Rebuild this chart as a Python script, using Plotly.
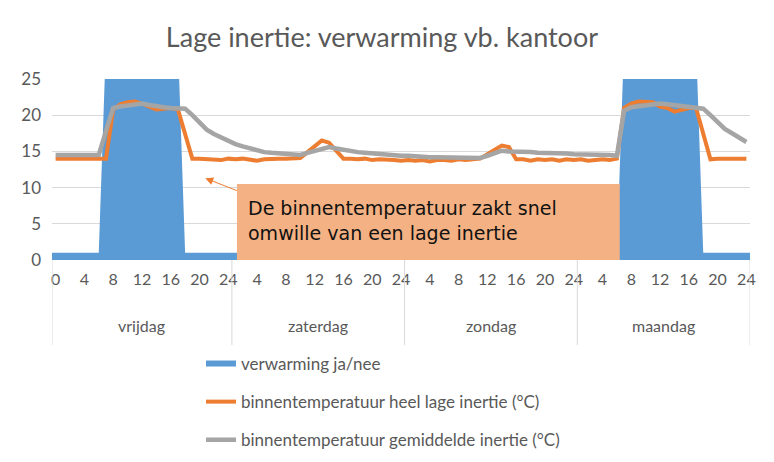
import plotly.graph_objects as go

# ---------------- data ----------------
hours = list(range(0, 25)) + list(range(1, 25)) * 3          # category labels (hour of day)
days = ["vrijdag", "zaterdag", "zondag", "maandag"]

verwarming = ([1] * 7 + [30] * 11 + [1] * 61 + [30] * 11 + [1] * 7)

temp_laag = [
    14.0, 14.0, 14.0, 14.0, 14.0, 14.0, 14.0, 14.0, 20.8, 21.5,   # 0-9
    21.8, 21.9, 21.6, 21.2, 20.8, 20.9, 21.0, 20.8, 17.4, 14.0,   # 10-19
    14.0, 13.9, 13.9, 13.8, 14.0, 13.9, 14.0, 13.9, 13.7, 13.9,   # 20-29
    14.0, 14.0, 14.0, 14.0, 14.1, 14.9, 15.7, 16.5, 16.2, 15.1,   # 30-39
    14.0, 14.0, 13.9, 14.0, 13.8, 13.9, 13.9, 13.8, 13.7, 13.8,   # 40-49
    13.7, 13.8, 13.6, 13.8, 13.8, 13.7, 13.9, 13.8, 13.9, 14.0,   # 50-59
    14.6, 15.2, 15.8, 15.6, 13.9, 13.9, 13.7, 13.9, 13.8, 13.9,   # 60-69
    13.7, 13.9, 13.8, 13.9, 13.7, 13.8, 13.9, 13.8, 14.0, 21.0,   # 70-79
    21.6, 21.9, 21.9, 21.8, 21.2, 21.0, 20.5, 20.8, 21.0, 21.0,   # 80-89
    17.5, 13.9, 14.0, 14.0, 13.9, 13.9, 14.0,                     # 90-96
]

temp_gemiddeld = [
    14.5, 14.5, 14.5, 14.5, 14.5, 14.5, 14.5, 17.8, 21.0, 21.2,   # 0-9
    21.3, 21.5, 21.6, 21.4, 21.2, 21.1, 21.0, 21.0, 20.9, 20.0,   # 10-19
    19.0, 18.0, 17.4, 16.9, 16.4, 16.0, 15.7, 15.4, 15.1, 14.9,   # 20-29
    14.8, 14.7, 14.6, 14.6, 14.5, 14.8, 15.1, 15.4, 15.6, 15.4,   # 30-39
    15.2, 15.0, 14.9, 14.8, 14.7, 14.6, 14.6, 14.5, 14.4, 14.4,   # 40-49
    14.3, 14.3, 14.2, 14.2, 14.2, 14.1, 14.1, 14.1, 14.05, 14.1,  # 50-59
    14.4, 14.8, 15.1, 15.0, 15.0, 14.9, 14.9, 14.8, 14.8, 14.8,   # 60-69
    14.7, 14.7, 14.6, 14.6, 14.6, 14.5, 14.5, 14.5, 14.4, 20.6,   # 70-79
    21.1, 21.2, 21.3, 21.4, 21.6, 21.5, 21.4, 21.3, 21.1, 21.0,   # 80-89
    20.9, 20.0, 19.0, 18.1, 17.5, 16.9, 16.3,                     # 90-96
]

y_ticks = [0, 5, 10, 15, 20, 25]

# ---------------- derived ----------------
idx = list(range(len(hours)))
day_of = []
d = 0
for i, h in enumerate(hours):
    if i > 0 and h < hours[i - 1]:
        d += 1
    day_of.append(d)
day_centers = [sum(i for i in idx if day_of[i] == k) / day_of.count(k) for k in range(len(days))]
day_bounds = [-0.5] + [i + 0.5 for i in idx[:-1] if day_of[i + 1] != day_of[i]] + [idx[-1] + 0.5]
tickvals = idx[::4]
ticktext = [str(hours[i]) for i in tickvals]

BLUE = "#5B9BD5"
ORANGE = "#ED7D31"
GREY = "#A5A5A5"
TXT = "#595959"
FONT = "Lato"

fig = go.Figure()

# area (extended to both plot edges, like Excel)
fig.add_trace(go.Scatter(
    x=[idx[0] - 0.5] + idx + [idx[-1] + 0.5],
    y=[verwarming[0]] + verwarming + [verwarming[-1]],
    mode="lines", fill="tozeroy", fillcolor=BLUE,
    line=dict(width=0, color=BLUE), showlegend=False, hoverinfo="skip"))
fig.add_trace(go.Scatter(x=[None], y=[None], mode="lines", name="verwarming ja/nee",
                         line=dict(color=BLUE, width=6), legendgroup="a"))
fig.add_trace(go.Scatter(x=idx, y=temp_laag, mode="lines",
                         name="binnentemperatuur heel lage inertie (°C)",
                         line=dict(color=ORANGE, width=4), legendgroup="b"))
fig.add_trace(go.Scatter(x=idx, y=temp_gemiddeld, mode="lines",
                         name="binnentemperatuur gemiddelde inertie (°C)",
                         line=dict(color=GREY, width=4.5), legendgroup="c"))

shapes = []
for b in day_bounds:
    shapes.append(dict(type="line", xref="x", yref="paper", x0=b, x1=b, y0=0, y1=-0.47,
                       line=dict(color="#D9D9D9", width=1)))
# annotation box
shapes.append(dict(type="rect", xref="x", yref="y", x0=25.2, x1=78.4, y0=-0.2, y1=10.5,
                   fillcolor="#F4B183", line=dict(width=0), layer="above"))

annotations = []
for name, c in zip(days, day_centers):
    annotations.append(dict(text=name, x=c, xref="x", y=-0.36, yref="paper",
                            showarrow=False, font=dict(family=FONT, size=16, color=TXT),
                            xanchor="center", yanchor="middle"))
annotations.append(dict(text="De binnentemperatuur zakt snel<br>omwille van een lage inertie",
                        x=26.4, xref="x", y=5.4, yref="y", xanchor="left", yanchor="middle",
                        align="left", showarrow=False,
                        font=dict(family="DejaVu Sans", size=19, color="#111111")))
annotations.append(dict(text="", x=20.8, xref="x", y=11.3, yref="y",
                        ax=33, ay=13, showarrow=True, arrowhead=2, arrowsize=1.6,
                        arrowwidth=1, arrowcolor=ORANGE))

fig.update_layout(
    width=774, height=462,
    margin=dict(l=52, r=24, t=79, b=202, autoexpand=False),
    paper_bgcolor="white", plot_bgcolor="white",
    title=dict(text="Lage inertie: verwarming vb. kantoor", x=0.4935, xref="container",
               y=1 - 38 / 462, yref="container", xanchor="center", yanchor="middle",
               font=dict(family=FONT, size=27, color=TXT)),
    xaxis=dict(range=[-0.5, idx[-1] + 0.5], tickvals=tickvals, ticktext=ticktext,
               showgrid=False, zeroline=False, showline=False, ticks="",
               tickfont=dict(family=FONT, size=16, color=TXT), ticklabelstandoff=8),
    yaxis=dict(range=[0, 25], tickvals=y_ticks, showgrid=True, gridcolor="#D9D9D9",
               gridwidth=1, zeroline=False, showline=False, ticks="",
               tickfont=dict(family=FONT, size=17, color=TXT), ticklabelstandoff=10),
    legend=dict(x=(201 - 52) / 698, xanchor="left", y=-0.475, yanchor="top",
                font=dict(family=FONT, size=17, color=TXT), tracegroupgap=13,
                bgcolor="rgba(0,0,0,0)"),
    shapes=shapes, annotations=annotations,
)

fig.write_html("out.html")
